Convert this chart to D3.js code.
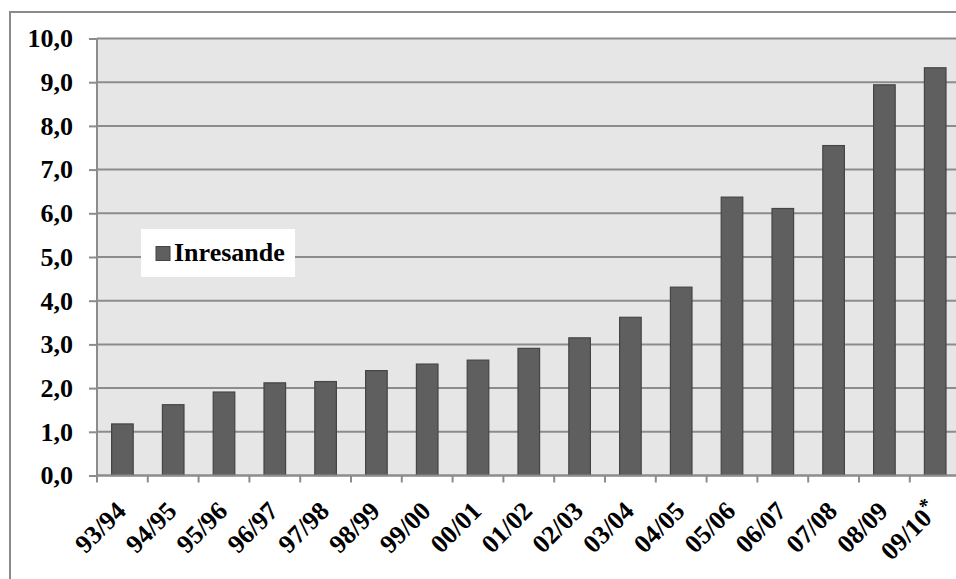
<!DOCTYPE html>
<html><head><meta charset="utf-8">
<script src="https://cdn.jsdelivr.net/npm/d3@7"></script>
<style>
html,body{margin:0;padding:0;background:#fff;overflow:hidden;}
svg{display:block;}
text{font-family:"Liberation Serif","Times New Roman",serif;font-weight:bold;fill:#000;}
</style></head>
<body>
<svg id="chart" width="956" height="579"></svg>
<script>
const categories = ["93/94","94/95","95/96","96/97","97/98","98/99","99/00","00/01","01/02","02/03","03/04","04/05","05/06","06/07","07/08","08/09","09/10*"];
const values = [1.18,1.62,1.91,2.12,2.15,2.40,2.55,2.64,2.91,3.15,3.62,4.31,6.37,6.11,7.55,8.94,9.33];
const yTicks = [0,1,2,3,4,5,6,7,8,9,10];
const seriesName = "Inresande";

(function(){
const svg = d3.select("#chart");
const pLeft = 97, pTop = 38.5, pBottom = 475.5, pRight = 960.6;
const FS = 26;

// outer chart border
svg.append("rect").attr("x",10).attr("y",12).attr("width",980).attr("height",620)
  .attr("fill","#fff").attr("stroke","#8a8a8a").attr("stroke-width",2);

const x = d3.scaleBand().domain(categories).range([pLeft,pRight]).padding(0);
const y = d3.scaleLinear().domain([0,10]).range([pBottom,pTop]);

// plot background
svg.append("rect").attr("x",pLeft).attr("y",pTop).attr("width",pRight-pLeft).attr("height",pBottom-pTop)
  .attr("fill","#e6e6e6");

// gridlines
svg.append("g").selectAll("line").data(yTicks).join("line")
  .attr("x1",pLeft).attr("x2",pRight+20)
  .attr("y1",d=>y(d)).attr("y2",d=>y(d))
  .attr("stroke","#8c8c8c").attr("stroke-width",2);

// bars
const bw = x.bandwidth()*0.425;
svg.append("g").selectAll("rect").data(values).join("rect")
  .attr("x",(d,i)=>x(categories[i])+(x.bandwidth()-bw)/2)
  .attr("y",d=>y(d))
  .attr("width",bw)
  .attr("height",d=>y(0)-y(d))
  .attr("fill","#5f5f5f")
  .attr("stroke","#454545").attr("stroke-width",1.2);

// y axis
const yAxis = d3.axisLeft(y).tickValues(yTicks).tickSize(8).tickPadding(16)
  .tickFormat(d=>d3.format(".1f")(d).replace(".",","));
const gy = svg.append("g").attr("transform",`translate(${pLeft},0)`).call(yAxis);
gy.select(".domain").attr("stroke","#8c8c8c").attr("stroke-width",2).attr("d",`M0,${pTop}V${pBottom}`);
gy.selectAll(".tick line").attr("stroke","#8c8c8c").attr("stroke-width",2);
gy.selectAll(".tick text").attr("font-size",FS).attr("font-family","Liberation Serif").attr("font-weight","bold").attr("fill","#000");

// x axis
const gx = svg.append("g").attr("transform",`translate(0,${pBottom})`);
gx.append("line").attr("x1",pLeft).attr("x2",pRight+20).attr("y1",0).attr("y2",0)
  .attr("stroke","#8c8c8c").attr("stroke-width",2);
const bounds = categories.map(c=>x(c)).concat([x.range()[1]]);
gx.selectAll("line.tk").data(bounds).join("line").attr("class","tk")
  .attr("x1",d=>d).attr("x2",d=>d).attr("y1",0).attr("y2",7)
  .attr("stroke","#8c8c8c").attr("stroke-width",2);
const lbl = gx.selectAll("text.lb").data(categories).join("text").attr("class","lb")
  .attr("transform",d=>`translate(${x(d)+x.bandwidth()/2+5},${37}) rotate(-45)`)
  .attr("text-anchor","end").attr("font-size",FS);
lbl.each(function(d){
  const t = d3.select(this);
  if (d.endsWith("*")) {
    t.append("tspan").text(d.slice(0,-1));
    t.append("tspan").attr("font-size",20).attr("dy",-9).text("*");
  } else t.text(d);
});

// legend
const lg = svg.append("g");
lg.append("rect").attr("x",141).attr("y",229).attr("width",154).attr("height",48).attr("fill","#fff");
lg.append("rect").attr("x",156).attr("y",246.5).attr("width",14).attr("height",14)
  .attr("fill","#5f5f5f").attr("stroke","#454545").attr("stroke-width",1);
lg.append("text").attr("x",174).attr("y",261).attr("font-size",FS).text(seriesName);
})();
</script>
</body></html>
